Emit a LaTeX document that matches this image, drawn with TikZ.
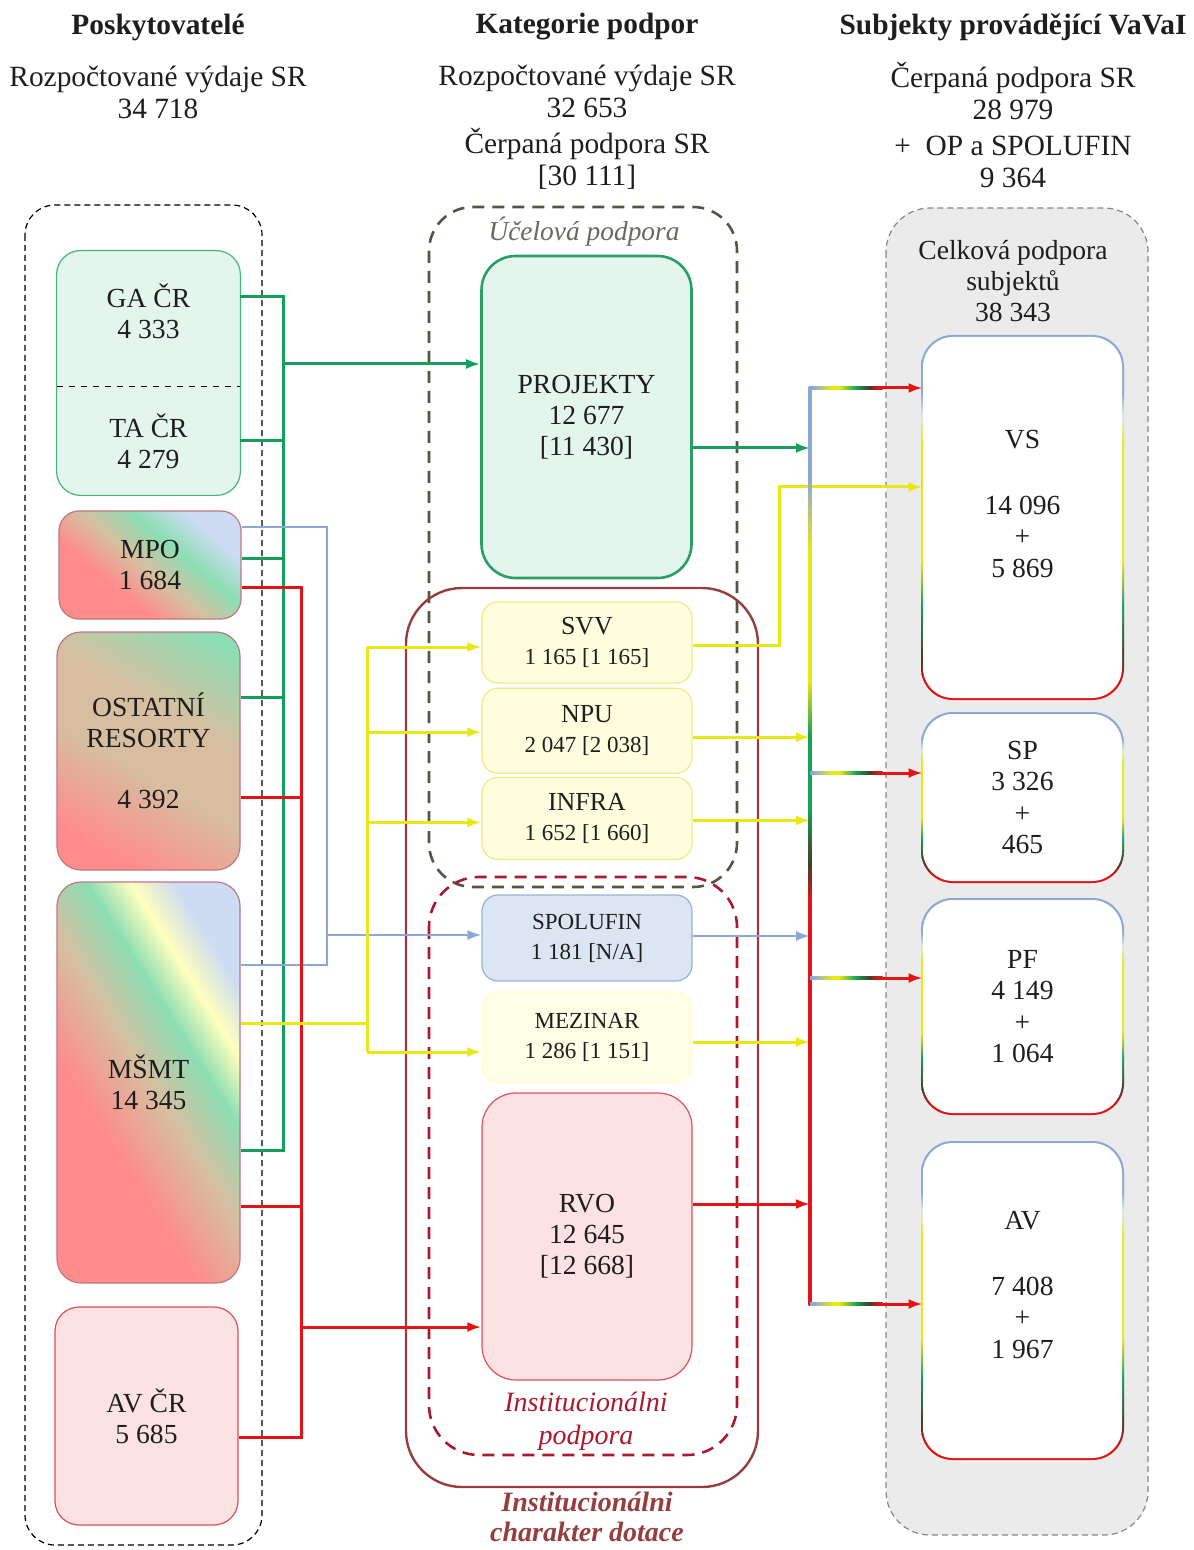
\documentclass[tikz,border=0pt]{standalone}
\usepackage{fontspec}
\setmainfont{Liberation Serif}
\usetikzlibrary{arrows.meta, positioning, calc, backgrounds}

\definecolor{txt}{RGB}{30,30,30}
\definecolor{lgreen}{RGB}{20,160,90}
\definecolor{ldark}{RGB}{70,60,40}
\definecolor{lred}{RGB}{228,20,20}
\definecolor{lyellow}{RGB}{232,232,20}
\definecolor{lblue}{RGB}{140,168,215}
\definecolor{lpale}{RGB}{220,235,225}
\definecolor{grnfill}{RGB}{228,245,237}
\definecolor{grndraw}{RGB}{70,180,125}
\definecolor{projdraw}{RGB}{40,160,100}
\definecolor{ylfill}{RGB}{254,254,222}
\definecolor{yldraw}{RGB}{236,236,130}
\definecolor{mzfill}{RGB}{254,254,230}
\definecolor{blfill}{RGB}{220,230,242}
\definecolor{bldraw}{RGB}{150,178,215}
\definecolor{pkfill}{RGB}{253,226,228}
\definecolor{pkdraw}{RGB}{222,80,90}
\definecolor{shred}{RGB}{255,140,140}
\definecolor{shtan}{RGB}{215,190,160}
\definecolor{shgreen}{RGB}{140,222,180}
\definecolor{shyellow}{RGB}{255,255,190}
\definecolor{shblue}{RGB}{205,220,242}
\definecolor{mixdraw}{RGB}{190,120,130}
\definecolor{instbrown}{RGB}{150,62,62}
\definecolor{instred}{RGB}{170,25,45}
\definecolor{ucel}{RGB}{85,85,65}
\definecolor{uceltxt}{RGB}{105,105,95}
\definecolor{grayfill}{RGB}{235,235,235}
\definecolor{graydash}{RGB}{135,135,135}

\pgfdeclarehorizontalshading{mpograd}{100bp}{color(0bp)=(shred); color(36bp)=(shred); color(48bp)=(shtan); color(60bp)=(shgreen); color(72bp)=(shblue); color(100bp)=(shblue)}
\pgfdeclarehorizontalshading{ostgrad}{100bp}{color(0bp)=(shred); color(25bp)=(shred); color(45bp)=(shtan); color(60bp)=(shtan); color(80bp)=(shgreen); color(100bp)=(shgreen)}
\pgfdeclarehorizontalshading{msmtgrad}{100bp}{color(0bp)=(shred); color(38bp)=(shred); color(50bp)=(shtan); color(60bp)=(shgreen); color(67bp)=(shyellow); color(74bp)=(shblue); color(100bp)=(shblue)}
\pgfdeclarehorizontalshading{arrgrad}{100bp}{color(0bp)=(lblue); color(27bp)=(lblue); color(40bp)=(lyellow); color(45bp)=(lyellow); color(57bp)=(lgreen); color(66bp)=(ldark); color(72bp)=(lred); color(100bp)=(lred)}
\pgfdeclareverticalshading{busgrad}{100bp}{color(0bp)=(lred); color(47bp)=(lred); color(49bp)=(ldark); color(52bp)=(lgreen); color(56bp)=(lgreen); color(59bp)=(lyellow); color(66bp)=(lyellow); color(70bp)=(lblue); color(100bp)=(lblue)}
\pgfdeclareverticalshading{subjgrad}{100bp}{color(0bp)=(lred); color(27bp)=(lred); color(31bp)=(ldark); color(38bp)=(lgreen); color(44bp)=(lyellow); color(60bp)=(lyellow); color(64bp)=(lpale); color(67bp)=(lblue); color(100bp)=(lblue)}

\tikzstyle{head} = [font=\fontsize{14.7}{16}\selectfont\bfseries, text=txt, inner sep=0pt]
\tikzstyle{sub} = [font=\fontsize{14.7}{16}\selectfont, align=center, text=txt, inner sep=0pt]
\tikzstyle{prov} = [rectangle, rounded corners=12pt, minimum width=91.5pt, align=center, text=txt, font=\fontsize{13.8}{15.5}\selectfont, inner sep=0pt]
\tikzstyle{gabox} = [rounded corners=12pt, draw=grndraw, fill=grnfill, line width=0.6pt]
\tikzstyle{mpobox} = [prov, rounded corners=10pt, shade, shading=mpograd, shading angle=50, draw=mixdraw, line width=0.6pt]
\tikzstyle{ostbox} = [prov, shade, shading=ostgrad, shading angle=60, draw=mixdraw, line width=0.6pt]
\tikzstyle{msmtbox} = [prov, shade, shading=msmtgrad, shading angle=32, draw=mixdraw, line width=0.6pt]
\tikzstyle{avbox} = [prov, draw=pkdraw, fill=pkfill, line width=0.6pt]
\tikzstyle{cat} = [rectangle, rounded corners=8pt, minimum width=105pt, align=center, text=txt, inner sep=0pt, line width=0.6pt, font=\fontsize{11.5}{15}\selectfont]
\tikzstyle{projbox} = [cat, rounded corners=17pt, draw=projdraw, fill=grnfill, line width=1.3pt, font=\fontsize{13.8}{15.5}\selectfont]
\tikzstyle{ylbox} = [cat, draw=yldraw, fill=ylfill]
\tikzstyle{mzbox} = [cat, draw=mzfill!90!yellow, fill=mzfill]
\tikzstyle{blbox} = [cat, draw=bldraw, fill=blfill]
\tikzstyle{pkbox} = [cat, rounded corners=17pt, draw=pkdraw, fill=pkfill, font=\fontsize{13.8}{15.5}\selectfont]
\tikzstyle{subj} = [rectangle, rounded corners=15pt, minimum width=99.5pt, fill=white, align=center, text=txt, font=\fontsize{13.8}{15.8}\selectfont, inner sep=0pt]
\tikzstyle{arrow} = [-{Latex[length=7pt,width=5pt]}]
\tikzstyle{gline} = [draw=lgreen, line width=1.5pt]
\tikzstyle{rline} = [draw=lred, line width=1.5pt]
\tikzstyle{yline} = [draw=lyellow, line width=1.5pt]
\tikzstyle{bline} = [draw=lblue, line width=1pt]

\begin{document}
\begin{tikzpicture}[x=0.5pt, y=-0.5pt]
	\useasboundingbox (0,0) rectangle (1193,1550);

	% Headers
	\node[head] (hprov) at (158,27) {Poskytovatelé};
	\node[head] (hkat) at (587,27) {Kategorie podpor};
	\node[head] (hsubj) at (1013,27) {Subjekty provádějící VaVaI};
	\node[sub] (sprov) at (158,92) {Rozpočtované výdaje SR\\34 718};
	\node[sub] (skat) at (587,127) {Rozpočtované výdaje SR\\32 653\\[2pt]Čerpaná podpora SR\\{[30 111]}};
	\node[sub] (ssubj) at (1013,125) {Čerpaná podpora SR\\28 979\\[2pt]+\ \ OP a SPOLUFIN\\9 364};

	% Poskytovatele
	\node[prov, minimum height=60pt] (ga) at (148.5,311) {GA ČR\\4 333};
	\node[prov, minimum height=54pt] (ta) at (148.5,441) {TA ČR\\4 279};
	\node[mpobox, minimum width=91pt, minimum height=54pt] (mpo) at (150,565) {MPO\\1 684};
	\node[ostbox, minimum height=119pt] (ost) at (148.5,751) {OSTATNÍ\\RESORTY\\[15pt]4 392};
	\node[msmtbox, minimum height=200.5pt] (msmt) at (148.5,1082.5) {MŠMT\\14 345};
	\node[avbox, minimum height=109pt] (avcr) at (146.5,1416) {AV ČR\\5 685};

	% Kategorie podpor
	\node[projbox, minimum height=161pt] (proj) at (586.5,417) {PROJEKTY\\12 677\\{[11 430]}};
	\node[ylbox, minimum height=40.5pt] (svv) at (587,642.5) {{\fontsize{13}{15}\selectfont SVV}\\1 165 [1 165]};
	\node[ylbox, minimum height=42.5pt, below=2pt of svv] (npu) {{\fontsize{13}{15}\selectfont NPU}\\2 047 [2 038]};
	\node[ylbox, minimum height=41pt, below=1.5pt of npu] (infra) {{\fontsize{13}{15}\selectfont INFRA}\\1 652 [1 660]};
	\node[blbox, minimum height=43pt] (spol) at (587,938) {SPOLUFIN\\1 181 [N/A]};
	\node[mzbox, minimum height=45.5pt] (mez) at (587,1037.5) {MEZINAR\\1 286 [1 151]};
	\node[pkbox, minimum height=143.5pt] (rvo) at (587,1236.5) {RVO\\12 645\\{[12 668]}};

	\node[font=\fontsize{13.7}{16}\selectfont\itshape, text=uceltxt, inner sep=0pt] (ucel) at (584,232) {Účelová podpora};
	\node[font=\fontsize{14}{16.5}\selectfont\itshape, text=instred, align=center, inner sep=0pt] (instp) at (586,1421) {Institucionálni\\podpora};
	\node[font=\fontsize{14}{15}\selectfont\bfseries\itshape, text=instbrown, align=center, inner sep=0pt] (instc) at (587,1517) {Institucionálni\\charakter dotace};

	% Subjekty
	\node[font=\fontsize{13.8}{15.5}\selectfont, text=txt, align=center, inner sep=0pt] (celk) at (1013,281) {Celková podpora\\subjektů\\38 343};
	\node[subj, minimum height=180.5pt] (vs) at (1022.5,517.5) {VS\\[17pt]14 096\\+\\5 869\\[-2pt]{}};
	\node[subj, minimum height=83.5pt] (sp) at (1022.5,797.5) {SP\\3 326\\+\\465};
	\node[subj, minimum height=106.5pt] (pf) at (1022.5,1006.5) {PF\\4 149\\+\\1 064};
	\node[subj, minimum height=157.5pt] (av) at (1022.5,1300.5) {AV\\[17pt]7 408\\+\\1 967\\[0pt]{}};

	% Green connectors
	\coordinate (gbus) at (283,0);
	\coordinate (gaout) at ([yshift=7pt]ga.east);
	\coordinate (mpog) at ([yshift=3.5pt]mpo.east);
	\coordinate (ostg) at ([yshift=27pt]ost.east);
	\coordinate (msmtg) at ([yshift=-33.75pt]msmt.east);
	\coordinate (projin) at ([yshift=26.5pt]proj.west);
	\draw[gline] (gaout) -| (msmtg -| gbus) -- (msmtg);
	\draw[gline] (ta.east) -- (ta.east -| gbus);
	\draw[gline] (mpog) -- (mpog -| gbus);
	\draw[gline] (ostg) -- (ostg -| gbus);
	\draw[gline, arrow] (projin -| gbus) -- (projin);

	% Blue connectors
	\coordinate (bbus) at (327,0);
	\coordinate (mpob) at ([yshift=19pt]mpo.east);
	\coordinate (msmtb) at ([yshift=58.75pt]msmt.east);
	\coordinate (spolin) at ([yshift=1.5pt]spol.west);
	\draw[bline] (mpob) -| (msmtb -| bbus) -- (msmtb);
	\draw[bline, arrow] (spolin -| bbus) -- (spolin);

	% Red connectors
	\coordinate (rbus) at (301,0);
	\coordinate (mpor) at ([yshift=-11pt]mpo.east);
	\coordinate (ostr) at ([yshift=-23pt]ost.east);
	\coordinate (msmtr) at ([yshift=-61.75pt]msmt.east);
	\coordinate (avr) at ([yshift=-10.5pt]avcr.east);
	\coordinate (rvoin) at ([yshift=-45.25pt]rvo.west);
	\draw[rline] (mpor) -| (avr -| rbus) -- (avr);
	\draw[rline] (ostr) -- (ostr -| rbus);
	\draw[rline] (msmtr) -- (msmtr -| rbus);
	\draw[rline, arrow] (rvoin -| rbus) -- (rvoin);

	% Yellow connectors
	\coordinate (ybus) at (367,0);
	\coordinate (msmty) at ([yshift=29.75pt]msmt.east);
	\coordinate (svvin) at ([yshift=-2.25pt]svv.west);
	\coordinate (npuin) at ([yshift=-0.75pt]npu.west);
	\coordinate (infrain) at ([yshift=-2pt]infra.west);
	\coordinate (mezin) at ([yshift=-7.25pt]mez.west);
	\draw[yline] (msmty) -- (msmty -| ybus);
	\draw[yline] (svvin -| ybus) -- (mezin -| ybus);
	\foreach \n in {svvin, npuin, infrain, mezin}
		\draw[yline, arrow] (\n -| ybus) -- (\n);

	% Right side
	\coordinate (rb) at (810,0);
	\coordinate (yjog) at (779,0);
	\coordinate (projout) at ([yshift=-15.5pt]proj.east);
	\coordinate (svvout) at ([yshift=-1.25pt]svv.east);
	\coordinate (npuout) at ([yshift=-3.25pt]npu.east);
	\coordinate (infraout) at ([yshift=-1pt]infra.east);
	\coordinate (spolout) at ([yshift=1pt]spol.east);
	\coordinate (mezout) at ([yshift=-2.25pt]mez.east);
	\coordinate (rvoout) at ([yshift=16.25pt]rvo.east);
	\coordinate (vsin) at ([yshift=15.25pt]vs.west);
	\draw[gline, arrow] (projout) -- (projout -| rb);
	\draw[yline, arrow] (svvout) -| (vsin -| yjog) -- (vsin);
	\draw[yline, arrow] (npuout) -- (npuout -| rb);
	\draw[yline, arrow] (infraout) -- (infraout -| rb);
	\draw[bline, arrow] (spolout) -- (spolout -| rb);
	\draw[yline, arrow] (mezout) -- (mezout -| rb);
	\draw[rline, arrow] (rvoout) -- (rvoout -| rb);

	% Bus to subjects
	\coordinate (vsa) at ([yshift=64.75pt]vs.west);
	\coordinate (spa) at ([yshift=12.25pt]sp.west);
	\coordinate (pfa) at ([yshift=14.25pt]pf.west);
	\coordinate (ava) at ([yshift=-1.75pt]av.west);
	\shade[shading=busgrad] ($(vsa -| rb)+(-1.5,-1.5)$) rectangle ($(ava -| rb)+(1.5,1.5)$);
	\foreach \s in {vsa, spa, pfa, ava} {
		\draw[rline, arrow] (\s -| rb) -- (\s);
		\shade[shading=arrgrad] ($(\s -| rb)+(0,-1.6)$) rectangle ($(\s)+(-40,1.6)$);
	}

	% Frames
	\begin{scope}[on background layer]
		\draw[dash pattern=on 3pt off 2pt, line width=0.6pt, rounded corners=15pt] (25,205) rectangle (262,1545);
		\draw[dash pattern=on 3pt off 2pt, draw=graydash, fill=grayfill, line width=0.6pt, rounded corners=22pt] (886,208) rectangle (1148,1535);
		\draw[gabox] (ga.north west) rectangle (ta.south east);
		\draw[dashed, line width=0.6pt] (ta.north west) -- (ta.north east);
		\draw[dash pattern=on 6pt off 4pt, draw=ucel, line width=1.3pt, rounded corners=22pt] (429,207) rectangle (737,887);
		\draw[draw=instbrown, line width=1.2pt, rounded corners=28pt] (406,588) rectangle (758,1487);
		\draw[dash pattern=on 6pt off 4pt, draw=instred, line width=1.3pt, rounded corners=25pt] (429,877) rectangle (737,1455);
		\foreach \s in {vs, sp, pf, av}
			\shade[shading=subjgrad, rounded corners=15.8pt] ($(\s.north west)+(-1.6,-1.6)$) rectangle ($(\s.south east)+(1.6,1.6)$);
	\end{scope}

\end{tikzpicture}
\end{document}
